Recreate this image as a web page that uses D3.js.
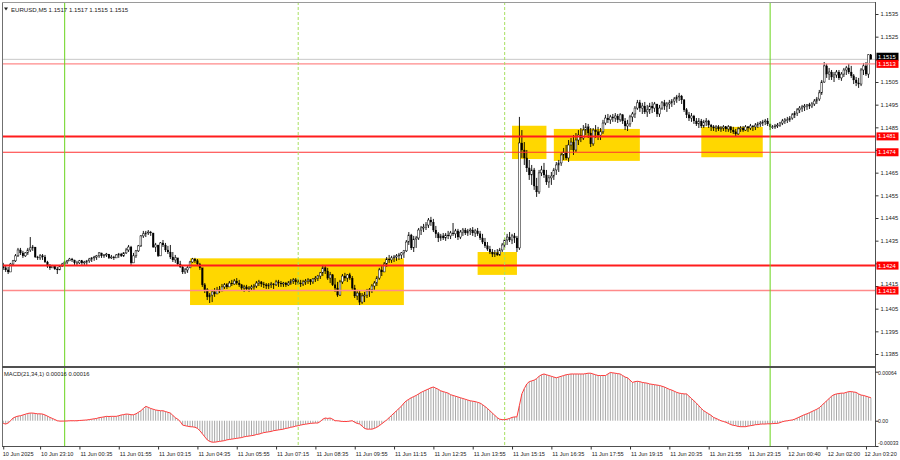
<!DOCTYPE html>
<html><head><meta charset="utf-8">
<script src="https://cdn.jsdelivr.net/npm/d3@7"></script>
<style>
body{margin:0;background:#fff;}
svg{display:block;font-family:"Liberation Sans",Arial,sans-serif;}
</style>
</head><body>
<svg id="c" width="900" height="460"></svg>
<script>
// ---------------- DATA ----------------
const symbolTitle = "EURUSD,M5";
const headerQuote = ["1.1517", "1.1517", "1.1515", "1.1515"];
const macdTitle = "MACD(21,34,1)";
const macdHeaderValues = ["0.00016", "0.00016"];
const firstOpen = 1.14243;

const highs = [
1.14252,1.14238,1.14234,1.14252,1.14265,1.14291,1.14318,1.14318,1.14305,1.14300,
1.14318,1.14366,1.14331,1.14305,1.14283,1.14291,1.14291,1.14287,1.14261,1.14247,
1.14243,1.14238,1.14234,1.14243,1.14252,1.14261,1.14265,1.14274,1.14274,1.14265,
1.14261,1.14265,1.14265,1.14261,1.14265,1.14274,1.14278,1.14283,1.14287,1.14300,
1.14296,1.14291,1.14296,1.14291,1.14287,1.14283,1.14291,1.14296,1.14296,1.14300,
1.14318,1.14331,1.14327,1.14296,1.14309,1.14331,1.14375,1.14393,1.14393,1.14397,
1.14393,1.14384,1.14340,1.14327,1.14344,1.14353,1.14340,1.14327,1.14331,1.14300,
1.14287,1.14274,1.14261,1.14238,1.14230,1.14238,1.14261,1.14274,1.14274,1.14269,
1.14252,1.14230,1.14163,1.14141,1.14119,1.14133,1.14141,1.14146,1.14150,1.14159,
1.14163,1.14163,1.14172,1.14177,1.14181,1.14185,1.14177,1.14159,1.14155,1.14155,
1.14150,1.14155,1.14159,1.14172,1.14177,1.14172,1.14168,1.14163,1.14163,1.14168,
1.14163,1.14177,1.14177,1.14172,1.14168,1.14168,1.14172,1.14181,1.14185,1.14185,
1.14181,1.14177,1.14177,1.14181,1.14185,1.14181,1.14185,1.14194,1.14199,1.14212,
1.14243,1.14238,1.14230,1.14212,1.14203,1.14185,1.14168,1.14177,1.14203,1.14208,
1.14203,1.14208,1.14194,1.14155,1.14133,1.14128,1.14119,1.14124,1.14137,1.14141,
1.14159,1.14172,1.14194,1.14230,1.14238,1.14256,1.14278,1.14287,1.14283,1.14287,
1.14291,1.14296,1.14300,1.14309,1.14353,1.14388,1.14380,1.14371,1.14371,1.14406,
1.14415,1.14424,1.14432,1.14450,1.14455,1.14446,1.14415,1.14388,1.14380,1.14384,
1.14384,1.14393,1.14393,1.14428,1.14402,1.14402,1.14397,1.14406,1.14406,1.14402,
1.14406,1.14410,1.14402,1.14406,1.14393,1.14380,1.14362,1.14344,1.14327,1.14313,
1.14309,1.14313,1.14318,1.14340,1.14362,1.14380,1.14388,1.14380,1.14384,1.14371,
1.14896,1.14838,1.14785,1.14750,1.14706,1.14684,1.14671,1.14627,1.14662,1.14680,
1.14693,1.14662,1.14640,1.14653,1.14671,1.14697,1.14706,1.14741,1.14759,1.14772,
1.14794,1.14803,1.14816,1.14825,1.14838,1.14847,1.14860,1.14869,1.14865,1.14847,
1.14847,1.14860,1.14852,1.14847,1.14883,1.14905,1.14909,1.14905,1.14909,1.14913,
1.14909,1.14913,1.14909,1.14891,1.14883,1.14905,1.14918,1.14944,1.14971,1.14971,
1.14958,1.14962,1.14949,1.14958,1.14962,1.14962,1.14953,1.14949,1.14966,1.14971,
1.14962,1.14971,1.14975,1.14984,1.14993,1.15002,1.14993,1.14975,1.14935,1.14918,
1.14913,1.14905,1.14891,1.14891,1.14887,1.14883,1.14891,1.14883,1.14865,1.14860,
1.14860,1.14860,1.14856,1.14860,1.14856,1.14860,1.14856,1.14852,1.14843,1.14852,
1.14856,1.14856,1.14860,1.14856,1.14865,1.14860,1.14869,1.14874,1.14878,1.14883,
1.14887,1.14891,1.14865,1.14860,1.14865,1.14869,1.14874,1.14887,1.14891,1.14896,
1.14900,1.14913,1.14922,1.14935,1.14944,1.14949,1.14953,1.14953,1.14958,1.14962,
1.14975,1.14984,1.15015,1.15059,1.15138,1.15130,1.15112,1.15103,1.15094,1.15103,
1.15103,1.15094,1.15112,1.15121,1.15130,1.15121,1.15085,1.15072,1.15068,1.15112,
1.15134,1.15138,1.15172,1.15170];

const lows = [
1.14221,1.14212,1.14203,1.14212,1.14238,1.14256,1.14278,1.14287,1.14274,1.14278,
1.14287,1.14300,1.14305,1.14274,1.14265,1.14265,1.14265,1.14252,1.14230,1.14221,
1.14230,1.14221,1.14203,1.14221,1.14234,1.14243,1.14247,1.14261,1.14256,1.14243,
1.14238,1.14247,1.14243,1.14243,1.14243,1.14252,1.14256,1.14261,1.14265,1.14274,
1.14274,1.14274,1.14278,1.14269,1.14269,1.14265,1.14274,1.14274,1.14278,1.14278,
1.14291,1.14300,1.14243,1.14256,1.14274,1.14300,1.14322,1.14362,1.14366,1.14375,
1.14371,1.14318,1.14300,1.14278,1.14283,1.14322,1.14300,1.14291,1.14269,1.14256,
1.14252,1.14243,1.14230,1.14203,1.14203,1.14208,1.14230,1.14252,1.14252,1.14238,
1.14221,1.14146,1.14119,1.14088,1.14075,1.14079,1.14102,1.14115,1.14119,1.14128,
1.14137,1.14137,1.14146,1.14150,1.14155,1.14155,1.14146,1.14128,1.14124,1.14128,
1.14124,1.14128,1.14133,1.14141,1.14150,1.14146,1.14141,1.14137,1.14137,1.14141,
1.14137,1.14150,1.14146,1.14146,1.14146,1.14146,1.14150,1.14155,1.14159,1.14155,
1.14155,1.14146,1.14150,1.14155,1.14159,1.14155,1.14159,1.14168,1.14172,1.14181,
1.14194,1.14203,1.14177,1.14163,1.14150,1.14124,1.14102,1.14106,1.14159,1.14172,
1.14168,1.14177,1.14133,1.14097,1.14088,1.14066,1.14071,1.14079,1.14097,1.14102,
1.14119,1.14133,1.14150,1.14177,1.14194,1.14212,1.14234,1.14252,1.14252,1.14256,
1.14261,1.14265,1.14269,1.14274,1.14300,1.14331,1.14309,1.14300,1.14318,1.14353,
1.14375,1.14388,1.14397,1.14406,1.14415,1.14388,1.14362,1.14344,1.14349,1.14353,
1.14349,1.14357,1.14357,1.14371,1.14362,1.14353,1.14357,1.14371,1.14375,1.14371,
1.14375,1.14371,1.14366,1.14371,1.14353,1.14335,1.14318,1.14305,1.14291,1.14278,
1.14278,1.14283,1.14283,1.14300,1.14318,1.14331,1.14344,1.14335,1.14340,1.14300,
1.14309,1.14715,1.14684,1.14653,1.14618,1.14596,1.14574,1.14543,1.14556,1.14635,
1.14627,1.14596,1.14583,1.14596,1.14618,1.14640,1.14653,1.14680,1.14706,1.14706,
1.14697,1.14750,1.14728,1.14741,1.14772,1.14785,1.14794,1.14816,1.14803,1.14763,
1.14768,1.14803,1.14794,1.14794,1.14821,1.14860,1.14869,1.14865,1.14874,1.14874,
1.14869,1.14874,1.14865,1.14838,1.14834,1.14852,1.14874,1.14891,1.14927,1.14918,
1.14909,1.14909,1.14896,1.14909,1.14913,1.14918,1.14896,1.14896,1.14927,1.14927,
1.14918,1.14931,1.14940,1.14949,1.14958,1.14966,1.14953,1.14918,1.14891,1.14878,
1.14874,1.14865,1.14856,1.14847,1.14847,1.14847,1.14856,1.14847,1.14834,1.14834,
1.14830,1.14834,1.14830,1.14834,1.14830,1.14830,1.14825,1.14821,1.14808,1.14816,
1.14830,1.14830,1.14834,1.14830,1.14838,1.14834,1.14838,1.14847,1.14852,1.14856,
1.14860,1.14856,1.14838,1.14843,1.14843,1.14847,1.14852,1.14860,1.14865,1.14869,
1.14874,1.14883,1.14891,1.14900,1.14913,1.14918,1.14922,1.14927,1.14931,1.14935,
1.14944,1.14953,1.14966,1.14993,1.15046,1.15068,1.15059,1.15059,1.15050,1.15068,
1.15059,1.15055,1.15072,1.15081,1.15085,1.15068,1.15041,1.15032,1.15024,1.15032,
1.15081,1.15077,1.15068,1.15150];

const closes = [
1.14230,1.14221,1.14212,1.14247,1.14261,1.14283,1.14309,1.14296,1.14283,1.14296,
1.14309,1.14318,1.14322,1.14278,1.14274,1.14283,1.14278,1.14256,1.14238,1.14230,
1.14238,1.14225,1.14221,1.14238,1.14247,1.14256,1.14261,1.14269,1.14265,1.14252,
1.14252,1.14261,1.14252,1.14256,1.14261,1.14269,1.14274,1.14278,1.14283,1.14296,
1.14283,1.14287,1.14291,1.14274,1.14278,1.14274,1.14287,1.14291,1.14283,1.14296,
1.14309,1.14322,1.14252,1.14283,1.14305,1.14327,1.14371,1.14380,1.14384,1.14388,
1.14384,1.14322,1.14331,1.14283,1.14340,1.14331,1.14309,1.14300,1.14278,1.14265,
1.14274,1.14247,1.14234,1.14212,1.14221,1.14230,1.14256,1.14269,1.14261,1.14247,
1.14230,1.14155,1.14133,1.14102,1.14110,1.14124,1.14115,1.14133,1.14128,1.14146,
1.14155,1.14146,1.14163,1.14159,1.14172,1.14163,1.14155,1.14141,1.14146,1.14137,
1.14141,1.14146,1.14150,1.14163,1.14168,1.14159,1.14155,1.14150,1.14155,1.14159,
1.14155,1.14168,1.14163,1.14159,1.14163,1.14155,1.14163,1.14172,1.14177,1.14168,
1.14163,1.14159,1.14168,1.14172,1.14177,1.14168,1.14181,1.14185,1.14194,1.14208,
1.14230,1.14216,1.14185,1.14199,1.14155,1.14141,1.14110,1.14168,1.14194,1.14185,
1.14199,1.14185,1.14141,1.14106,1.14119,1.14079,1.14106,1.14110,1.14128,1.14133,
1.14150,1.14163,1.14185,1.14221,1.14212,1.14247,1.14269,1.14265,1.14274,1.14278,
1.14283,1.14287,1.14296,1.14305,1.14344,1.14375,1.14318,1.14357,1.14362,1.14397,
1.14406,1.14410,1.14419,1.14441,1.14432,1.14397,1.14380,1.14362,1.14371,1.14362,
1.14375,1.14371,1.14384,1.14380,1.14393,1.14366,1.14388,1.14397,1.14384,1.14393,
1.14397,1.14384,1.14393,1.14380,1.14362,1.14344,1.14327,1.14313,1.14300,1.14291,
1.14296,1.14287,1.14309,1.14331,1.14353,1.14366,1.14353,1.14371,1.14362,1.14318,
1.14781,1.14750,1.14715,1.14671,1.14640,1.14662,1.14591,1.14565,1.14649,1.14662,
1.14640,1.14609,1.14627,1.14635,1.14662,1.14684,1.14693,1.14728,1.14741,1.14715,
1.14772,1.14785,1.14750,1.14794,1.14816,1.14803,1.14838,1.14852,1.14825,1.14777,
1.14838,1.14830,1.14816,1.14830,1.14869,1.14891,1.14883,1.14896,1.14891,1.14900,
1.14883,1.14905,1.14878,1.14856,1.14865,1.14896,1.14909,1.14935,1.14958,1.14935,
1.14944,1.14918,1.14927,1.14944,1.14935,1.14953,1.14909,1.14935,1.14958,1.14944,
1.14953,1.14958,1.14966,1.14975,1.14984,1.14988,1.14971,1.14927,1.14905,1.14891,
1.14900,1.14878,1.14865,1.14878,1.14856,1.14874,1.14878,1.14860,1.14852,1.14847,
1.14852,1.14843,1.14847,1.14852,1.14843,1.14852,1.14838,1.14830,1.14821,1.14843,
1.14847,1.14838,1.14852,1.14847,1.14856,1.14852,1.14860,1.14865,1.14869,1.14874,
1.14878,1.14865,1.14852,1.14852,1.14856,1.14860,1.14869,1.14878,1.14883,1.14883,
1.14891,1.14905,1.14913,1.14927,1.14935,1.14940,1.14944,1.14949,1.14944,1.14953,
1.14966,1.14975,1.15002,1.15050,1.15121,1.15085,1.15094,1.15072,1.15081,1.15094,
1.15068,1.15085,1.15103,1.15112,1.15094,1.15077,1.15059,1.15046,1.15041,1.15103,
1.15121,1.15085,1.15170,1.15150];

const macd = [
-0.000035,-0.000043,-0.000030,0.000000,0.000035,0.000050,0.000060,0.000065,0.000075,0.000085,
0.000095,0.000100,0.000100,0.000095,0.000090,0.000090,0.000087,0.000075,0.000060,0.000043,
0.000030,0.000015,0.000000,-0.000005,-0.000005,-0.000004,-0.000003,0.000000,0.000000,0.000000,
0.000000,0.000003,0.000005,0.000008,0.000010,0.000015,0.000020,0.000025,0.000030,0.000040,
0.000045,0.000050,0.000057,0.000055,0.000057,0.000057,0.000057,0.000065,0.000075,0.000080,
0.000087,0.000085,0.000078,0.000078,0.000090,0.000110,0.000130,0.000160,0.000187,0.000175,
0.000160,0.000150,0.000140,0.000135,0.000130,0.000130,0.000120,0.000110,0.000100,0.000070,
0.000040,0.000020,-0.000010,-0.000057,-0.000065,-0.000072,-0.000078,-0.000080,-0.000085,-0.000100,
-0.000130,-0.000170,-0.000210,-0.000250,-0.000270,-0.000280,-0.000280,-0.000275,-0.000270,-0.000265,
-0.000260,-0.000250,-0.000245,-0.000240,-0.000235,-0.000230,-0.000225,-0.000220,-0.000210,-0.000205,
-0.000200,-0.000195,-0.000190,-0.000180,-0.000175,-0.000165,-0.000155,-0.000150,-0.000145,-0.000140,
-0.000130,-0.000125,-0.000120,-0.000115,-0.000110,-0.000100,-0.000095,-0.000085,-0.000080,-0.000070,
-0.000065,-0.000057,-0.000050,-0.000045,-0.000040,-0.000035,-0.000032,-0.000030,-0.000030,-0.000010,
0.000020,0.000035,0.000030,0.000035,0.000020,0.000000,0.000000,-0.000005,-0.000010,-0.000010,
-0.000010,-0.000005,0.000000,-0.000020,-0.000035,-0.000043,-0.000070,-0.000100,-0.000110,-0.000110,
-0.000110,-0.000100,-0.000085,-0.000065,-0.000040,-0.000015,0.000010,0.000040,0.000070,0.000100,
0.000130,0.000160,0.000190,0.000230,0.000260,0.000280,0.000300,0.000315,0.000330,0.000350,
0.000370,0.000385,0.000400,0.000415,0.000430,0.000440,0.000425,0.000410,0.000390,0.000380,
0.000370,0.000360,0.000340,0.000330,0.000320,0.000310,0.000300,0.000290,0.000280,0.000270,
0.000260,0.000255,0.000250,0.000240,0.000230,0.000210,0.000185,0.000160,0.000130,0.000100,
0.000070,0.000040,0.000020,0.000015,0.000013,0.000020,0.000030,0.000043,0.000050,0.000050,
0.000200,0.000350,0.000420,0.000480,0.000510,0.000520,0.000530,0.000550,0.000580,0.000600,
0.000610,0.000600,0.000590,0.000580,0.000570,0.000560,0.000570,0.000580,0.000590,0.000600,
0.000605,0.000610,0.000610,0.000610,0.000610,0.000610,0.000610,0.000615,0.000620,0.000620,
0.000610,0.000600,0.000590,0.000590,0.000590,0.000590,0.000610,0.000630,0.000625,0.000620,
0.000615,0.000610,0.000590,0.000570,0.000560,0.000530,0.000500,0.000510,0.000515,0.000510,
0.000500,0.000495,0.000490,0.000480,0.000475,0.000470,0.000465,0.000460,0.000450,0.000440,
0.000425,0.000410,0.000400,0.000385,0.000370,0.000360,0.000355,0.000350,0.000350,0.000320,
0.000290,0.000260,0.000230,0.000195,0.000160,0.000130,0.000110,0.000090,0.000070,0.000043,
0.000030,0.000015,0.000000,-0.000010,-0.000020,-0.000035,-0.000050,-0.000060,-0.000065,-0.000075,
-0.000078,-0.000078,-0.000078,-0.000070,-0.000065,-0.000060,-0.000052,-0.000050,-0.000045,-0.000043,
-0.000043,-0.000040,-0.000040,-0.000038,-0.000035,-0.000035,-0.000025,-0.000013,-0.000005,0.000000,
0.000005,0.000010,0.000020,0.000035,0.000050,0.000065,0.000080,0.000090,0.000105,0.000120,
0.000135,0.000150,0.000170,0.000200,0.000230,0.000260,0.000290,0.000320,0.000340,0.000350,
0.000355,0.000360,0.000360,0.000370,0.000380,0.000380,0.000375,0.000370,0.000350,0.000335,
0.000330,0.000320,0.000310,0.000300];

const timeLabels = ["10 Jun 2025","10 Jun 23:10","11 Jun 00:35","11 Jun 01:55","11 Jun 03:15","11 Jun 04:35",
"11 Jun 05:55","11 Jun 07:15","11 Jun 08:35","11 Jun 09:55","11 Jun 11:15","11 Jun 12:35","11 Jun 13:55",
"11 Jun 15:15","11 Jun 16:35","11 Jun 17:55","11 Jun 19:15","11 Jun 20:35","11 Jun 21:55","11 Jun 23:15",
"12 Jun 00:40","12 Jun 02:00","12 Jun 03:20"];
const timeLabelBars = [0,15,31,47,63,79,95,111,127,143,159,175,191,207,223,239,255,271,287,303,319,335,351];

const priceTicks = [1.1385,1.1395,1.1405,1.1415,1.1425,1.1435,1.1445,1.1455,1.1465,1.1475,1.1485,1.1495,1.1505,1.1515,1.1525,1.1535];
const macdTicks = [0.00064, 0, -0.00033];
const macdTickLabels = ["0.00064", "0.00", "-0.00033"];

const levelPrices = [1.1513, 1.1481, 1.1474, 1.1424, 1.1413];
const levelKinds = ["light", "bold", "thin", "bold", "light"];
const bidPrice = 1.1515;

const zoneStartBar = [76, 193, 207, 224, 284];
const zoneEndBar   = [163, 209, 221, 259, 309];
const zoneTop      = [1.14272, 1.14300, 1.14857, 1.14843, 1.14852];
const zoneBottom   = [1.14066, 1.14199, 1.14710, 1.14702, 1.14718];

const separatorBars = [25, 120, 204, 312];
const separatorKinds = ["solid", "dashed", "dashed", "solid"];

// ---------------- DRAWING ----------------
const svg = d3.select("#c");
const N = closes.length;
const L = 2, R = 875, mainTop = 2, mainBottom = 366, macdTop = 368, macdBottom = 446;
const step = 2.458;
const fs = 5.8;
const FONT = "Liberation Sans, Arial, sans-serif";

const x = d3.scaleLinear().domain([-0.5, N - 0.5]).range([L, L + step * N]);
const y = d3.scaleLinear().domain([1.1385, 1.1535]).range([354, 14]);
const ym = d3.scaleLinear().domain([-0.00033, 0.00064]).range([446, 371.7]);

const defs = svg.append("defs");
defs.append("clipPath").attr("id", "clipMain").append("rect")
  .attr("x", L).attr("y", mainTop).attr("width", R - L).attr("height", mainBottom - mainTop);
defs.append("clipPath").attr("id", "clipMacd").append("rect")
  .attr("x", L).attr("y", macdTop).attr("width", R - L).attr("height", macdBottom - macdTop);

svg.append("rect").attr("width", 900).attr("height", 460).attr("fill", "#fff");

const main = svg.append("g").attr("clip-path", "url(#clipMain)");

// zones
main.selectAll("rect.zone").data(zoneStartBar).enter().append("rect")
  .attr("class", "zone")
  .attr("x", (d) => x(d))
  .attr("width", (d, i) => x(zoneEndBar[i]) - x(d))
  .attr("y", (d, i) => y(zoneTop[i]))
  .attr("height", (d, i) => y(zoneBottom[i]) - y(zoneTop[i]))
  .attr("fill", "#ffd700");

// vertical separators (both panels)
const vsep = svg.append("g");
separatorBars.forEach((b, i) => {
  vsep.append("line")
    .attr("x1", x(b)).attr("x2", x(b)).attr("y1", mainTop).attr("y2", macdBottom)
    .attr("stroke", separatorKinds[i] === "solid" ? "#6ad41c" : "#a8e060")
    .attr("stroke-width", 1)
    .attr("stroke-dasharray", separatorKinds[i] === "solid" ? null : "3,2");
});

// bid line
main.append("line").attr("x1", L).attr("x2", R).attr("y1", y(bidPrice)).attr("y2", y(bidPrice))
  .attr("stroke", "#c8c8c8").attr("stroke-width", 1);

// candles
const opens = closes.map((c, i) => (i === 0 ? firstOpen : closes[i - 1]));
const cg = main.append("g");
closes.forEach((c, i) => {
  const o = opens[i];
  const hi = Math.max(highs[i], o, c), lo = Math.min(lows[i], o, c);
  const cx = x(i);
  cg.append("line").attr("x1", cx).attr("x2", cx).attr("y1", y(hi)).attr("y2", y(lo))
    .attr("stroke", "#000").attr("stroke-width", 0.9);
  const top = y(Math.max(o, c)), bot = y(Math.min(o, c));
  const h = Math.max(0.8, bot - top);
  const bull = c >= o;
  cg.append("rect").attr("x", cx - 0.9).attr("width", 1.8).attr("y", top).attr("height", h)
    .attr("fill", bull ? "#fff" : "#000")
    .attr("stroke", "#000").attr("stroke-width", bull ? 0.5 : 0.2);
});

// level lines
const lvlStyle = { light: ["#ff8a8a", 1.4], bold: ["#ff1c1c", 2], thin: ["#ff3030", 1.1] };
levelPrices.forEach((p, i) => {
  main.append("line").attr("x1", L).attr("x2", R).attr("y1", y(p)).attr("y2", y(p))
    .attr("stroke", lvlStyle[levelKinds[i]][0]).attr("stroke-width", lvlStyle[levelKinds[i]][1]);
});

// MACD panel
const mg = svg.append("g").attr("clip-path", "url(#clipMacd)");
mg.selectAll("rect.h").data(macd).enter().append("rect")
  .attr("x", (d, i) => x(i) - 0.5).attr("width", 1)
  .attr("y", (d) => ym(Math.max(d, 0)))
  .attr("height", (d) => Math.max(0.5, Math.abs(ym(d) - ym(0))))
  .attr("fill", "#a9a9a9");
mg.append("path").datum(macd)
  .attr("d", d3.line().x((d, i) => x(i)).y((d) => ym(d)))
  .attr("fill", "none").attr("stroke", "#ff3a3a").attr("stroke-width", 1);

// frame
const frame = svg.append("g").attr("fill", "none");
frame.append("line").attr("x1", L + 0.5).attr("x2", L + 0.5).attr("y1", mainTop).attr("y2", macdBottom).attr("stroke", "#707070");
frame.append("line").attr("x1", L).attr("x2", R).attr("y1", mainTop + 0.5).attr("y2", mainTop + 0.5).attr("stroke", "#9a9a9a");
frame.append("rect").attr("x", L).attr("y", mainBottom).attr("width", R - L).attr("height", 2).attr("fill", "#505050");
frame.append("line").attr("x1", L).attr("x2", R).attr("y1", macdBottom + 0.5).attr("y2", macdBottom + 0.5).attr("stroke", "#505050");
frame.append("line").attr("x1", R + 0.5).attr("x2", R + 0.5).attr("y1", mainTop).attr("y2", macdBottom + 1).attr("stroke", "#505050");

// tag positions (bid tag nudged up so it does not sit under the 1.1513 tag)
const tagPrices = [bidPrice].concat(levelPrices);
const tagFills = ["#000"].concat(levelPrices.map(() => "#ff0000"));
const tagShift = tagPrices.map((p, i) => (i === 0 ? -2.6 : 0));

// price axis: labels hidden where a tag covers them, nudged up where a tag sits just below
const hiddenByTag = (p) => tagPrices.some((t) => Math.abs(t - p) < 0.00015);
const tagJustBelow = (p) => tagPrices.some((t) => p - t > 0.00015 && p - t < 0.00025);
const pa = svg.append("g").attr("transform", `translate(${R + 0.5},0)`)
  .call(d3.axisRight(y).tickValues(priceTicks)
    .tickFormat((d) => (hiddenByTag(d) ? "" : d3.format(".4f")(d))).tickSize(3).tickPadding(2));
pa.select(".domain").remove();
pa.selectAll("line").attr("stroke", "#333");
pa.selectAll("text").attr("font-size", fs).attr("fill", "#222").attr("font-family", FONT)
  .attr("dy", (d) => (tagJustBelow(d) ? "-0.15em" : "0.32em"));

// macd axis
const ma = svg.append("g").attr("transform", `translate(${R + 0.5},0)`)
  .call(d3.axisRight(ym).tickValues(macdTicks).tickFormat((d, i) => macdTickLabels[i]).tickSize(3).tickPadding(2));
ma.select(".domain").remove();
ma.selectAll("line").attr("stroke", "#333");
ma.selectAll("text").attr("font-size", 5.2).attr("fill", "#222").attr("font-family", FONT)
  .attr("x", 2.5)
  .attr("dy", (d) => (d < 0 ? "-0.35em" : d > 0 ? "0.5em" : "0.32em"));

// time axis
const ta = svg.append("g").attr("transform", `translate(0,${macdBottom + 0.5})`)
  .call(d3.axisBottom(x).tickValues(timeLabelBars).tickFormat((d, i) => timeLabels[i]).tickSize(3).tickPadding(3));
ta.select(".domain").remove();
ta.selectAll("line").attr("stroke", "#333");
ta.selectAll("text").attr("font-size", 5.6).attr("fill", "#222").attr("text-anchor", "start")
  .attr("dx", (d, i) => (i === 0 ? -1 : i === timeLabelBars.length - 1 ? -2 : 0.5)).attr("font-family", FONT);

// price tags
tagPrices.forEach((p, i) => {
  const cy = y(p) + tagShift[i];
  const g = svg.append("g");
  g.append("rect").attr("x", R + 1.5).attr("y", cy - 4).attr("width", 22).attr("height", 8).attr("fill", tagFills[i]);
  g.append("text").attr("x", R + 3).attr("y", cy).attr("dy", "0.35em").attr("font-size", fs)
    .attr("font-family", FONT).attr("fill", "#fff").text(d3.format(".4f")(p));
});

// header texts
svg.append("path").attr("d", "M4,7.5 L8,7.5 L6,10.5 Z").attr("fill", "#222");
svg.append("text").attr("x", 11).attr("y", 11.5).attr("font-size", 6.1).attr("fill", "#222").attr("font-family", FONT)
  .text(symbolTitle + "  " + headerQuote.join(" "));
svg.append("text").attr("x", 4).attr("y", macdTop + 7.5).attr("font-size", fs).attr("fill", "#222").attr("font-family", FONT)
  .text(macdTitle + " " + macdHeaderValues.join(" "));
</script>
</body></html>
